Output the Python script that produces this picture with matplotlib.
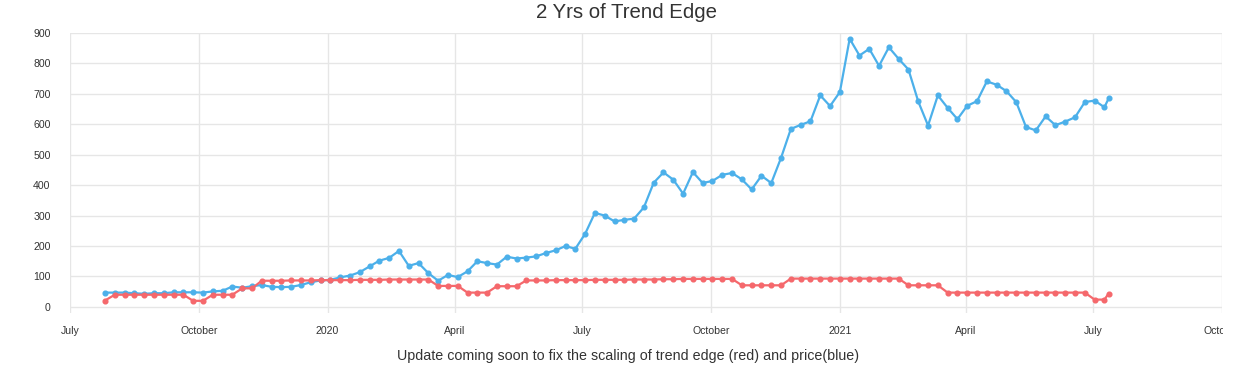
import matplotlib
matplotlib.use("Agg")
import matplotlib.pyplot as plt
from matplotlib.transforms import Bbox, TransformedBbox
import pandas as pd

plt.rcParams['font.family'] = ['Liberation Sans', 'DejaVu Sans']

# weekly dates plus a final partial-week point
week_dates = list(pd.date_range('2019-07-26', periods=103, freq='7D'))
dates = week_dates + [pd.Timestamp('2021-07-12')]

price = [47, 47, 47, 45, 43, 45, 45, 48, 48, 48,
         47, 51, 53, 67, 63, 68, 72, 66, 65, 66,
         72, 81, 87, 89, 97, 103, 114, 133, 152, 161,
         184, 135, 144, 111, 86, 105, 98, 117, 150, 144,
         139, 165, 159, 162, 166, 177, 186, 200, 191, 240,
         309, 300, 281, 286, 290, 327, 408, 442, 418, 372,
         443, 407, 414, 434, 440, 419, 386, 431, 407, 490,
         585, 598, 610, 695, 660, 706, 881, 826, 848, 792,
         853, 815, 780, 675, 596, 695, 654, 617, 661, 676,
         741, 730, 709, 673, 591, 580, 626, 597, 609, 623,
         673, 678, 656, 685]

trend_edge = [21, 40, 40, 40, 40, 40, 40, 40, 40, 20,
              20, 40, 40, 40, 61, 61, 86, 86, 86, 87,
              87, 87, 88, 88, 88, 88, 89, 89, 89, 90,
              90, 90, 90, 90, 69, 69, 69, 47, 47, 47,
              68, 68, 68, 87, 87, 87, 88, 88, 88, 88,
              89, 89, 89, 89, 90, 90, 90, 91, 91, 92,
              92, 92, 92, 92, 92, 71, 71, 71, 71, 71,
              93, 93, 93, 93, 93, 93, 93, 93, 93, 93,
              93, 93, 71, 71, 71, 71, 47, 47, 47, 47,
              47, 47, 47, 47, 47, 47, 47, 47, 47, 47,
              47, 24, 24, 44]

tick_dates = ['2019-07-01', '2019-10-01', '2020-01-01', '2020-04-01',
              '2020-07-01', '2020-10-01', '2021-01-01', '2021-04-01',
              '2021-07-01', '2021-10-01']
tick_labels = ['July', 'October', '2020', 'April', 'July', 'October',
               '2021', 'April', 'July', 'October']
y_ticks = [0, 100, 200, 300, 400, 500, 600, 700, 800, 900]

title = '2 Yrs of Trend Edge'
caption = 'Update coming soon to fix the scaling of trend edge (red) and price(blue)'

W, H = 1240, 379
fig = plt.figure(figsize=(W / 100, H / 100), dpi=100)
ax = fig.add_axes([70 / W, 1 - 313 / H, (1222 - 70) / W, (313 - 33) / H])

blue = '#4cb0ea'
red = '#f5686c'
ax.plot(dates, price, color=blue, lw=1.6, marker='o', ms=3.4, zorder=3,
        solid_joinstyle='round')
ax.plot(dates, trend_edge, color=red, lw=1.6, marker='o', ms=3.4, zorder=3,
        solid_joinstyle='round')

tdates = [pd.Timestamp(d) for d in tick_dates]
ax.set_xlim(tdates[0], tdates[-1])
ax.set_ylim(-20, 900)
ax.set_xticks(tdates)
ax.set_xticklabels(tick_labels)
ax.set_yticks(y_ticks)
ax.set_yticklabels([str(v) for v in y_ticks])

ax.grid(True, color='#e6e6e6', lw=1.0)
ax.set_axisbelow(True)
for s in ax.spines.values():
    s.set_visible(False)
ax.tick_params(axis='both', length=0, labelsize=7.6, colors='#333333')
ax.tick_params(axis='y', pad=14)
ax.tick_params(axis='x', pad=9)

fig.text(627 / W, 1 - 12 / H, title, ha='center', va='center', fontsize=14.7,
         color='#333333')
fig.text(628 / W, 1 - 356 / H, caption, ha='center', va='center', fontsize=10.3,
         color='#333333')

# clip last x tick label at the plot's right edge
lbl = ax.get_xticklabels()[-1]
lbl.set_clip_on(True)
lbl.set_clip_box(TransformedBbox(Bbox([[0, 0], [1223 / W, 1]]), fig.transFigure))

fig.savefig('out.png', dpi=100)
